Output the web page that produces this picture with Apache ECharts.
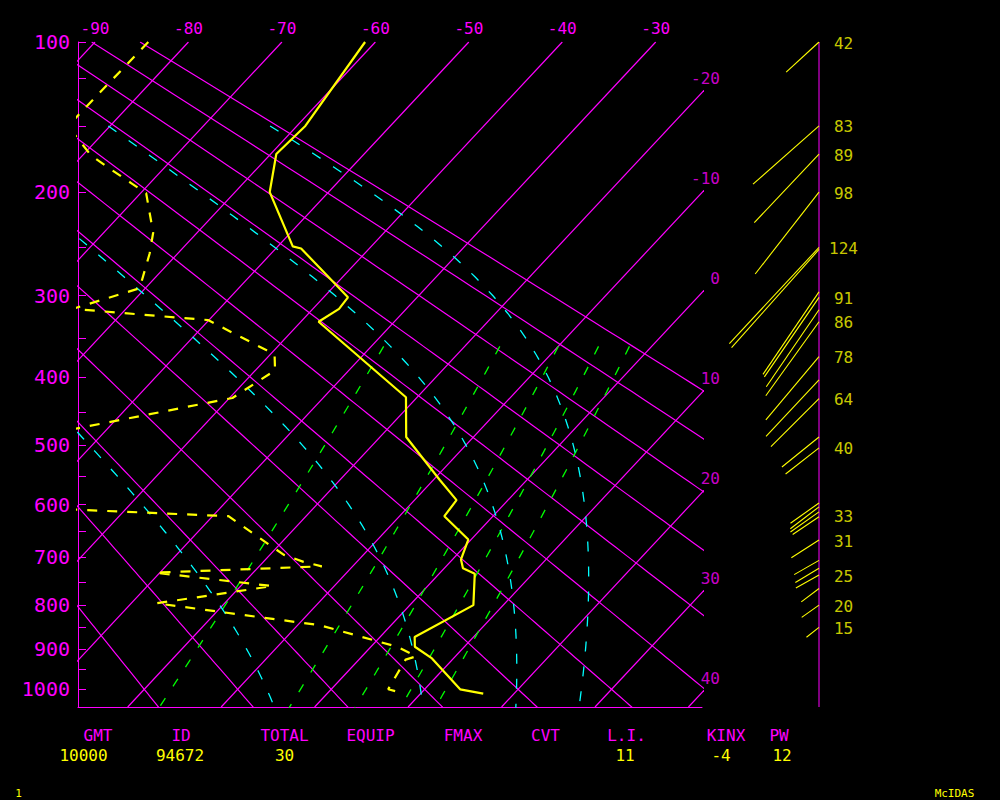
<!DOCTYPE html>
<html><head><meta charset="utf-8">
<script src="https://cdn.jsdelivr.net/npm/echarts@6/dist/echarts.min.js"></script>
<style>html,body{margin:0;padding:0;background:#000;}#c{width:1000px;height:800px;}</style>
</head><body><div id="c"></div>
<script>
// ---------------- DATA ----------------
// Temperature profile (hPa, deg C)
const tempP = [100, 150, 170, 200, 249, 251, 302, 315, 330, 428, 487, 557, 592, 621, 665, 704, 722, 733, 800, 872, 895, 923, 1000, 1011];
const tempT = [-61.1, -59.1, -59.4, -56.3, -48.4, -47.3, -37.4, -37.2, -38.1, -21.2, -17.2, -9.3, -5.5, -5.2, -0.3, 0.9, 2.0, 3.8, 6.8, 3.7, 4.7, 7.7, 13.8, 16.7];
// Dewpoint profile (hPa, deg C)
const dewP = [100, 150, 171, 181, 193, 201, 236, 256, 292, 315, 328, 365, 372, 391, 429, 583, 621, 695, 709, 718, 731, 759, 796, 845, 895, 918, 926, 1000, 1011];
const dewT = [-84.3, -84.5, -79.1, -75.8, -71.9, -69.4, -64.7, -63.0, -60.6, -65.7, -50.1, -40.8, -39.4, -37.9, -39.7, -83.0, -28.3, -18.5, -15.7, -13.3, -30.5, -16.6, -27.3, -7.6, 2.8, 5.8, 5.0, 6.1, 8.3];
// Winds: pressure (hPa), direction (deg), speed (kt)
const windP   = [100, 150, 170, 200, 250, 252, 296, 302, 316, 330, 373, 404, 430, 487, 504, 597, 604, 613, 622, 666, 706, 722, 736, 764, 800, 850];
const windDir = [227.5, 228.6, 223.3, 217.9, 223, 221.7, 214.2, 214.5, 214.4, 215.7, 220, 223.2, 225.1, 231, 232, 234.7, 232.7, 234.7, 235.9, 237.3, 240.2, 239, 240.8, 232.7, 234.8, 232];
const windSpd = [42, 83, 89, 98, 124, 124, 94, 91, 88, 86, 78, 73, 64, 45, 40, 33, 34, 33, 30, 31, 27, 26, 25, 21, 20, 15];
// Wind speed labels (hPa level, value)
const windLabelP = [100, 150, 170, 200, 250, 302, 330, 373, 430, 504, 620, 666, 736, 800, 850];
const windLabelV = [42, 83, 89, 98, 124, 91, 86, 78, 64, 40, 33, 31, 25, 20, 15];
// Axis ticks / labels
const pressureLabels = [100, 200, 300, 400, 500, 600, 700, 800, 900, 1000];
const pressureTicks = [100, 120, 150, 200, 250, 300, 350, 400, 450, 500, 550, 600, 650, 700, 750, 800, 850, 900, 950, 1000];
const topIsothermLabels = [-90, -80, -70, -60, -50, -40, -30];
const rightIsothermLabels = [-20, -10, 0, 10, 20, 30, 40];
// Background lines
const isotherms = [-90, -80, -70, -60, -50, -40, -30, -20, -10, 0, 10, 20, 30, 40];
const dryAdiabats = [-20, -10, 0, 10, 20, 30, 40, 50, 60, 70, 80, 90]; // deg C at 1000 hPa
const moistThetaE = [272, 302, 332, 362]; // K
const mixingRatios = [1, 3, 5, 7, 9]; // g/kg
// Stability table
const statNames = ['GMT', 'ID', 'TOTAL', 'EQUIP', 'FMAX', 'CVT', 'L.I.', 'KINX', 'PW'];
const statValues = ['10000', '94672', '30', '', '', '', '11', '-4', '12'];

// ---------------- LAYOUT / STYLE ----------------
const M = '#ff00ff', YEL = '#ffff00', CY = '#00ffff', GR = '#00ff00';
const FONT = '"DejaVu Sans Mono", monospace';
const K = 0.302, PA = Math.pow(100, K), PB = Math.pow(1000, K), H1000 = 647.3;
const XMIN = -91.82, XMAX = -25.05, YMAX = 665;
const WIND_SCALE = 1.06;
const statNameX = [98, 181, 284.5, 370.5, 463, 545.5, 626.5, 726, 779];
const statValueX = [83.5, 180, 284.5, 370.5, 463, 545.5, 625, 721, 782];

function Yp(p) { return H1000 * (Math.pow(p, K) - PA) / (PB - PA); }
function pFromY(y) { return Math.pow(y * (PB - PA) / H1000 + PA, 1 / K); }
function pt(T, p) { const y = Yp(p); return [T - y / 10, y]; }
function range(a, b, s) { const r = []; for (let v = a; v <= b + 1e-9; v += s) r.push(v); return r; }

function thetaE(Tk, p) {
  const tc = Tk - 273.15;
  const es = 6.112 * Math.exp(17.67 * tc / (tc + 243.5));
  if (es > 0.5 * p) return Infinity;
  const rs = 0.622 * es / (p - es);
  return Tk * Math.pow(1000 / p, 0.286) * Math.exp(2.5e6 * rs / (1005 * Tk));
}
function moistT(te, p) {
  let lo = 150, hi = 345;
  for (let i = 0; i < 60; i++) { const m = (lo + hi) / 2; if (thetaE(m, p) > te) hi = m; else lo = m; }
  return (lo + hi) / 2 - 273.15;
}
function mixTd(w, p) { const e = w * p / (622 + w); const l = Math.log(e / 6.112); return 243.5 * l / (17.67 - l); }

function ls(data, color, width, type, xi, yi, z) {
  return { type: 'line', xAxisIndex: xi || 0, yAxisIndex: yi || 0, data: data, symbol: 'none', showSymbol: false,
    silent: true, animation: false, clip: true, z: z || 2, lineStyle: { color: color, width: width, type: type || 'solid', opacity: 1 } };
}

const series = [];
isotherms.forEach(T => series.push(ls([[T, 0], [T - YMAX / 10, YMAX]], M, 1.2, 'solid', 0, 0, 1)));
const pAll = range(100, 1050, 10);
dryAdiabats.forEach(th => series.push(ls(pAll.map(p => pt((th + 273.15) * Math.pow(p / 1000, 0.286) - 273.15, p)), M, 1.2, 'solid', 0, 0, 1)));
const pMix = range(360, 1050, 10);
mixingRatios.forEach(w => series.push(ls(pMix.map(p => pt(mixTd(w, p), p)), GR, 1.3, [9, 14], 0, 0, 2)));
const pMoist = range(150, 1050, 10);
moistThetaE.forEach(te => series.push(ls(pMoist.map(p => pt(moistT(te, p), p)), CY, 1.3, [10, 15], 0, 0, 3)));
series.push(ls(dewP.map((p, i) => pt(dewT[i], p)), YEL, 2.2, [10, 10], 0, 0, 4));
series.push(ls(tempP.map((p, i) => pt(tempT[i], p)), YEL, 2.2, 'solid', 0, 0, 5));
// isotherm labels on the right edge
series.push({ type: 'scatter', xAxisIndex: 0, yAxisIndex: 0, clip: false, silent: true, animation: false, symbolSize: 1,
  itemStyle: { color: 'rgba(0,0,0,0)' },
  data: rightIsothermLabels.map(T => [XMAX, (T - XMAX) * 10, T]),
  label: { show: true, position: 'inside', offset: [18, -14], align: 'right', verticalAlign: 'middle',
    formatter: p => String(p.value[2]), color: M, fontFamily: FONT, fontSize: 16 } });
// wind staff (vertical reference line of the wind panel, spans the pressure axis range)
series.push(ls([[0, 0], [0, YMAX]], M, 1, 'solid', 2, 1, 4));
// winds
windP.forEach((p, i) => {
  const a = windDir[i] * Math.PI / 180, L = windSpd[i] * WIND_SCALE, y0 = Yp(p);
  series.push(ls([[0, y0], [L * Math.sin(a), y0 - L * Math.cos(a)]], YEL, 1.1, 'solid', 2, 1, 5));
});
series.push({ type: 'scatter', xAxisIndex: 2, yAxisIndex: 1, clip: false, silent: true, animation: false, symbolSize: 1,
  itemStyle: { color: 'rgba(0,0,0,0)' },
  data: windLabelP.map((p, i) => [0, Yp(p), windLabelV[i]]),
  label: { show: true, position: 'inside', offset: [24.5, 1], align: 'center', verticalAlign: 'middle',
    formatter: p => String(p.value[2]), color: YEL, fontFamily: FONT, fontSize: 16 } });

const graphic = [];
statNames.forEach((t, i) => graphic.push({ type: 'text', x: statNameX[i], y: 735, silent: true,
  style: { text: t, fill: M, font: '16px ' + FONT, align: 'center', verticalAlign: 'middle' } }));
statValues.forEach((t, i) => { if (t) graphic.push({ type: 'text', x: statValueX[i], y: 755, silent: true,
  style: { text: t, fill: YEL, font: '16px ' + FONT, align: 'center', verticalAlign: 'middle' } }); });
graphic.push({ type: 'text', x: 18.5, y: 793.5, silent: true, style: { text: '1', fill: YEL, font: '11px ' + FONT, align: 'center', verticalAlign: 'middle' } });
graphic.push({ type: 'text', x: 954.5, y: 793.5, silent: true, style: { text: 'McIDAS', fill: YEL, font: '11px ' + FONT, align: 'center', verticalAlign: 'middle' } });

const chart = echarts.init(document.getElementById('c'), null, { renderer: 'svg', width: 1000, height: 800 });
chart.setOption({
  backgroundColor: '#000',
  animation: false,
  grid: [
    { left: 78, top: 42, width: 624, height: YMAX, outerBoundsMode: 'none' },
    { left: 699, top: 42, width: 120, height: YMAX, outerBoundsMode: 'none' }
  ],
  xAxis: [
    { gridIndex: 0, type: 'value', min: XMIN, max: XMAX, position: 'bottom',
      axisLine: { show: true, onZero: false, lineStyle: { color: M, width: 1 } }, axisTick: { show: false },
      axisLabel: { show: false }, splitLine: { show: false } },
    { gridIndex: 0, type: 'value', min: XMIN, max: XMAX, position: 'top',
      axisLine: { show: false, onZero: false }, axisTick: { show: false }, splitLine: { show: false },
      axisLabel: { show: true, customValues: topIsothermLabels, formatter: v => String(v), color: M, fontFamily: FONT, fontSize: 16, margin: 6 } },
    { gridIndex: 1, type: 'value', min: -120, max: 0, show: false }
  ],
  yAxis: [
    { gridIndex: 0, type: 'value', min: 0, max: YMAX, inverse: true, position: 'left',
      axisLine: { show: true, onZero: false, lineStyle: { color: M, width: 1 } },
      axisTick: { show: true, inside: true, length: 8, customValues: pressureTicks.map(Yp), lineStyle: { color: M, width: 1 } },
      axisLabel: { show: true, customValues: pressureLabels.map(Yp), formatter: v => String(Math.round(pFromY(v))),
        color: M, fontFamily: FONT, fontSize: 20, margin: 8 },
      splitLine: { show: false } },
    { gridIndex: 1, type: 'value', min: 0, max: YMAX, inverse: true, position: 'right',
      axisLine: { show: false }, axisTick: { show: false },
      axisLabel: { show: false }, splitLine: { show: false } }
  ],
  series: series,
  graphic: graphic
});
</script></body></html>
